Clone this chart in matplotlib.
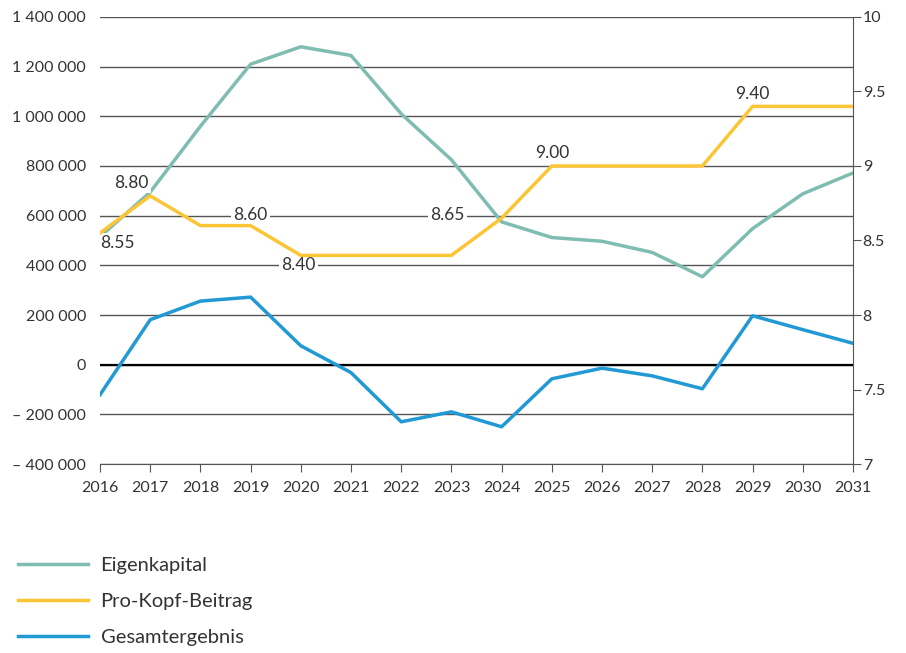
import matplotlib.pyplot as plt
import matplotlib.ticker as mticker

plt.rcParams['font.family'] = ['Lato', 'DejaVu Sans']

years = list(range(2016, 2032))
eigenkapital = [515000, 695000, 960000, 1210000, 1280000, 1245000, 1010000, 825000,
                575000, 512000, 497000, 452000, 354000, 548000, 688000, 772000]
beitrag = [8.55, 8.80, 8.60, 8.60, 8.40, 8.40, 8.40, 8.40,
           8.65, 9.00, 9.00, 9.00, 9.00, 9.40, 9.40, 9.40]
gesamt = [-121000, 181000, 256000, 272000, 76000, -32000, -230000, -190000,
          -250000, -57000, -14000, -45000, -97000, 197000, 141000, 86000]

# labels on the yellow line: (year, value, text, x offset, y offset, ha)
beitrag_labels = [(2016, 8.55, '8.55', 0, -7.5, 'left'),
                  (2017, 8.80, '8.80', -1, 9.5, 'right'),
                  (2019, 8.60, '8.60', 0, 7.5, 'center'),
                  (2020, 8.40, '8.40', -1.5, -7, 'center'),
                  (2024, 8.65, '8.65', -39, 2, 'center'),
                  (2025, 9.00, '9.00', 0, 9.5, 'center'),
                  (2029, 9.40, '9.40', 0, 9, 'center')]

c_teal = '#7fbcb1'
c_yellow = '#fcc535'
c_blue = '#2199d5'
c_grid = '#555555'
c_txt = '#333333'

fig = plt.figure(figsize=(9.06, 6.53), dpi=100)
ax = fig.add_axes([0.1104, 0.2894, 0.8311, 0.6846])
ax2 = ax.twinx()

# left axis
ax.set_xlim(2016, 2031)
ax.set_ylim(-400000, 1400000)
ax.set_yticks(range(-400000, 1400001, 200000))
def fmt(v, pos):
    s = '{:,}'.format(int(abs(v))).replace(',', ' ')
    return ('– ' + s) if v < 0 else s
ax.yaxis.set_major_formatter(mticker.FuncFormatter(fmt))
ax.grid(axis='y', color=c_grid, lw=1.0)
ax.set_axisbelow(True)
ax.axhline(0, color='black', lw=1.6, zorder=1.5)
for s in ['left', 'top', 'right']:
    ax.spines[s].set_visible(False)
ax.spines['bottom'].set_color(c_grid)
ax.tick_params(axis='y', length=0, pad=10, labelsize=11.5, labelcolor=c_txt)
ax.set_xticks(years)
ax.tick_params(axis='x', length=6, color=c_grid, direction='out', labelsize=11.5,
               labelcolor=c_txt, pad=6)

# right axis
ax2.set_ylim(7, 10)
ax2.set_yticks([7, 7.5, 8, 8.5, 9, 9.5, 10])
ax2.yaxis.set_major_formatter(mticker.FuncFormatter(lambda v, p: '{:g}'.format(v)))
for s in ['left', 'top', 'bottom']:
    ax2.spines[s].set_visible(False)
ax2.spines['right'].set_color(c_grid)
ax2.tick_params(axis='y', length=6, color=c_grid, labelsize=11.5, labelcolor=c_txt, pad=1)

l1, = ax.plot(years, eigenkapital, color=c_teal, lw=2.5, zorder=3, label='Eigenkapital')
l3, = ax.plot(years, gesamt, color=c_blue, lw=2.5, zorder=3, label='Gesamtergebnis')
l2, = ax2.plot(years, beitrag, color=c_yellow, lw=2.5, zorder=3, label='Pro-Kopf-Beitrag')
ax2.set_zorder(ax.get_zorder() + 1)
ax2.patch.set_visible(False)

for yr, v, t, dx, dy, ha in beitrag_labels:
    ax2.annotate(t, (yr, v), xytext=(dx, dy), textcoords='offset points',
                 ha=ha, va='center', fontsize=12.5, color=c_txt, zorder=2,
                 bbox=dict(boxstyle='square,pad=0.12', fc='white', ec='none'))

fig.legend([l1, l2, l3], ['Eigenkapital', 'Pro-Kopf-Beitrag', 'Gesamtergebnis'],
           loc='upper left', bbox_to_anchor=(0.011, 0.160), frameon=False,
           fontsize=14.5, handlelength=3.45, handletextpad=0.65, labelspacing=0.95,
           labelcolor=c_txt, borderaxespad=0)

fig.savefig('out.png', dpi=100)
